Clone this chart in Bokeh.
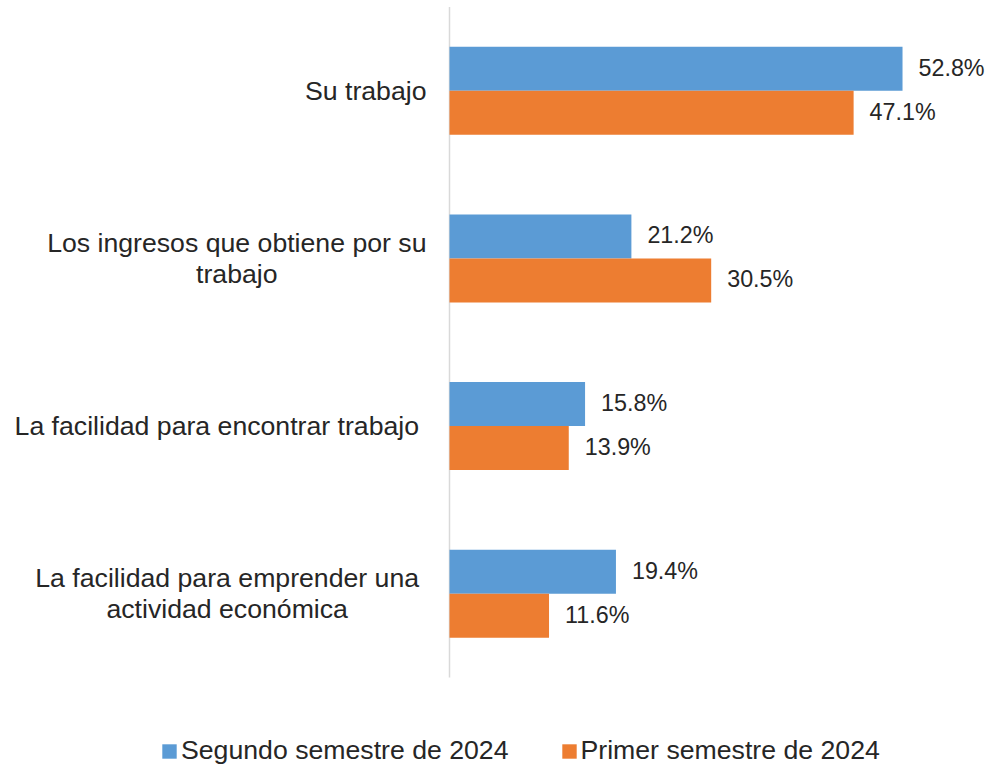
from bokeh.plotting import figure
from bokeh.models import ColumnDataSource, Range1d, Legend, LegendItem
from bokeh.core.properties import value
from bokeh.embed import file_html
from bokeh.resources import INLINE

# ---- data ----
categories = [
    "Su trabajo",
    "Los ingresos que obtiene por su\ntrabajo",
    "La facilidad para encontrar trabajo ",
    "La facilidad para emprender una \nactividad económica ",
]
segundo_2024 = [52.8, 21.2, 15.8, 19.4]
primer_2024 = [47.1, 30.5, 13.9, 11.6]
series_names = ["Segundo semestre de 2024", "Primer semestre de 2024"]

# ---- style / layout ----
W, H = 989, 767
AXIS_PX = 449          # pixel position of the value-axis line
PX_PER_PCT = 8.58
CAT_PX = 167.6
TOP_PX = 6.5
BOTTOM_PX = 90
BAR_H = 0.2625
BLUE = "#5B9BD5"
ORANGE = "#ED7D31"
TXT = "#262626"
FONT = "Liberation Sans"

n = len(categories)
ycenter = [n - 0.5 - i for i in range(n)]

src = ColumnDataSource(dict(
    cat=categories,
    yc=ycenter,
    y_blue=[y + BAR_H / 2 for y in ycenter],
    y_orange=[y - BAR_H / 2 for y in ycenter],
    zero=[0] * n,
    seg=segundo_2024,
    pri=primer_2024,
    seg_lbl=[f"{v:.1f}%" for v in segundo_2024],
    pri_lbl=[f"{v:.1f}%" for v in primer_2024],
))

p = figure(
    width=W, height=H, output_backend="svg", toolbar_location=None,
    x_range=Range1d(-AXIS_PX / PX_PER_PCT, (W - AXIS_PX) / PX_PER_PCT),
    y_range=Range1d(-BOTTOM_PX / CAT_PX, n + TOP_PX / CAT_PX),
    min_border=0, min_border_left=0, min_border_right=0,
    min_border_top=0, min_border_bottom=0,
)
p.axis.visible = False
p.grid.visible = False
p.outline_line_color = None
p.background_fill_color = "white"
p.border_fill_color = "white"

# value axis line
p.segment(x0=0, y0=0, x1=0, y1=n, line_color="#D9D9D9", line_width=1.5)

r_blue = p.hbar(y="y_blue", left=0, right="seg", height=BAR_H, source=src,
                fill_color=BLUE, line_color=None)
r_orange = p.hbar(y="y_orange", left=0, right="pri", height=BAR_H, source=src,
                  fill_color=ORANGE, line_color=None)

# data labels
for ycol, xcol, tcol in (("y_blue", "seg", "seg_lbl"), ("y_orange", "pri", "pri_lbl")):
    p.text(x=xcol, y=ycol, text=tcol, source=src, x_offset=16, y_offset=-1,
           text_align="left", text_baseline="middle",
           text_font=value(FONT), text_font_size="23.3px", text_color=TXT)

# category labels: block right-aligned to the axis, lines centred
p.text(x="zero", y="yc", text="cat", source=src, x_offset=-23, y_offset=0,
       anchor="center_right", text_align="center", text_baseline="middle",
       text_line_height=1.04,
       text_font=value(FONT), text_font_size="26.67px", text_color=TXT)

legend = Legend(
    items=[LegendItem(label=series_names[0], renderers=[r_blue]),
           LegendItem(label=series_names[1], renderers=[r_orange])],
    orientation="horizontal", location=(160, 1),
    glyph_width=18, glyph_height=18, label_standoff=3, spacing=51,
    padding=0, margin=0, border_line_color=None, background_fill_alpha=0,
    label_text_font=FONT, label_text_font_size="26.67px", label_text_color=TXT,
)
p.add_layout(legend, "center")

open("out.html", "w").write(file_html(p, INLINE))
